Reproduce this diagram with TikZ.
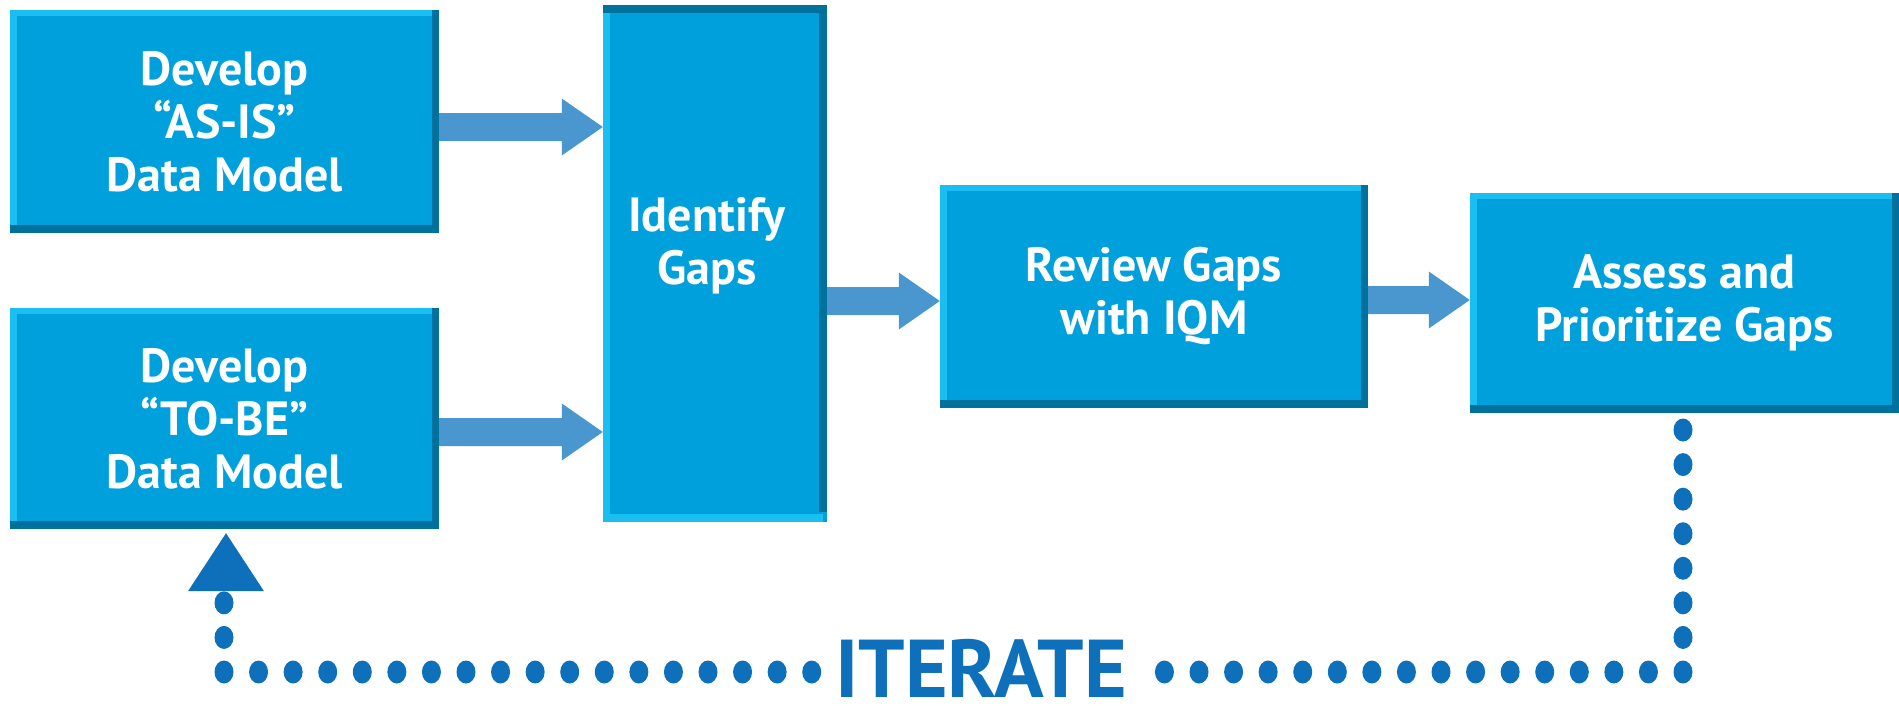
\documentclass[tikz,border=0pt]{standalone}
\usepackage{fontspec}
\setmainfont{PT Sans}
\usetikzlibrary{calc}
\definecolor{boxc}{RGB}{0,160,220}
\definecolor{edgeL}{RGB}{26,190,240}
\definecolor{edgeD}{RGB}{0,112,156}
\definecolor{arrowc}{RGB}{74,151,208}
\definecolor{dotc}{RGB}{14,112,186}
\newcommand\fatarrow[2]{%
  \fill[arrowc] ([yshift=14pt]#1) -- ([xshift=-41pt,yshift=14pt]#2) -- ([xshift=-41pt,yshift=28.5pt]#2)
    -- (#2) -- ([xshift=-41pt,yshift=-28.5pt]#2) -- ([xshift=-41pt,yshift=-14pt]#2) -- ([yshift=-14pt]#1) -- cycle;}
\begin{document}
\begin{tikzpicture}[x=1pt,y=-1pt,
  box/.style={fill=boxc, inner sep=0pt, text=white, align=center,
    font=\fontsize{48}{53}\selectfont\bfseries},
  lbl/.style={inner sep=0pt, text=white, align=center,
    font=\fontsize{48}{53}\selectfont\bfseries},
  bevelA/.style={path picture={
    \fill[edgeD] ([xshift=-7pt]path picture bounding box.north east) rectangle (path picture bounding box.south east);
    \fill[edgeD] (path picture bounding box.south west) rectangle ([yshift=8pt]path picture bounding box.south east);
    \fill[edgeL] (path picture bounding box.north west) rectangle ([yshift=-6pt,xshift=-7pt]path picture bounding box.north east);
    \fill[edgeL] (path picture bounding box.north west) rectangle ([xshift=7pt,yshift=8pt]path picture bounding box.south west);
  }},
  bevelB/.style={path picture={
    \fill[edgeD] (path picture bounding box.north west) rectangle ([yshift=-8pt]path picture bounding box.north east);
    \fill[edgeD] ([xshift=-8pt]path picture bounding box.north east) rectangle ([yshift=10pt]path picture bounding box.south east);
    \fill[edgeL] ([yshift=-8pt]path picture bounding box.north west) rectangle ([xshift=7pt]path picture bounding box.south west);
    \fill[edgeL] (path picture bounding box.south west) rectangle ([xshift=-4pt,yshift=8pt]path picture bounding box.south east);
  }},
  dot/.style={fill=dotc}
]
\useasboundingbox (0,0) rectangle (1899,705);

% boxes
\node[box,bevelA,minimum width=429pt,minimum height=223pt] (asis) at (224.5,121.5) {Develop\\“AS-IS”\\Data Model};
\node[box,bevelA,minimum width=429pt,minimum height=221pt] (tobe) at (224.5,418.5) {Develop\\“TO-BE”\\Data Model};
\node[box,bevelB,minimum width=224pt,minimum height=517pt] (ident) at (715,263.5) {};
\node[lbl] (identtxt) at (707,246) {Identify\\Gaps};
\node[box,bevelA,minimum width=428pt,minimum height=223pt] (review) at (1154,296.5) {Review Gaps\\with IQM};
\node[box,bevelA,minimum width=429pt,minimum height=220pt] (assess) at (1684.5,303) {Assess and\\Prioritize Gaps};

% arrows
\coordinate (y1) at (0,127);
\coordinate (y2) at (0,432);
\coordinate (y3) at (0,301);
\coordinate (y4) at (0,300);
\coordinate (a1s) at (asis.east |- y1);
\coordinate (a1e) at (ident.west |- y1);
\coordinate (a2s) at (tobe.east |- y2);
\coordinate (a2e) at (ident.west |- y2);
\coordinate (a3s) at (ident.east |- y3);
\coordinate (a3e) at (review.west |- y3);
\coordinate (a4s) at (review.east |- y4);
\coordinate (a4e) at (assess.west |- y4);
\fatarrow{a1s}{a1e}
\fatarrow{a2s}{a2e}
\fatarrow{a3s}{a3e}
\fatarrow{a4s}{a4e}

% iterate loop
\node[inner sep=0pt, text=dotc, font=\fontsize{82}{82}\selectfont\bfseries] (iter) at (981,668) {ITERATE};
\coordinate (rtop) at (1683,430);
\coordinate (rc) at (1683,672);
\coordinate (lc) at (224,672);
\foreach \i in {0,...,7} \fill[dot] ($(rtop)+(0,\i*34.571)$) ellipse [x radius=9.5pt, y radius=11.5pt];
\foreach \i in {1,...,15} \fill[dot] ($(rc)+(-\i*34.571,0)$) ellipse [x radius=9.5pt, y radius=11.5pt];
\foreach \i in {0,...,17} \fill[dot] ($(lc)+(\i*34.571,0)$) ellipse [x radius=9.5pt, y radius=11.5pt];
\foreach \i in {1,2} \fill[dot] ($(lc)+(0,-\i*34.571)$) ellipse [x radius=9.5pt, y radius=11.5pt];
\coordinate (tip) at (tobe.south -| 226,0);
\fill[dotc] ([yshift=-4pt]tip) -- ++(38,58) -- ++(-76,0) -- cycle;
\end{tikzpicture}
\end{document}
